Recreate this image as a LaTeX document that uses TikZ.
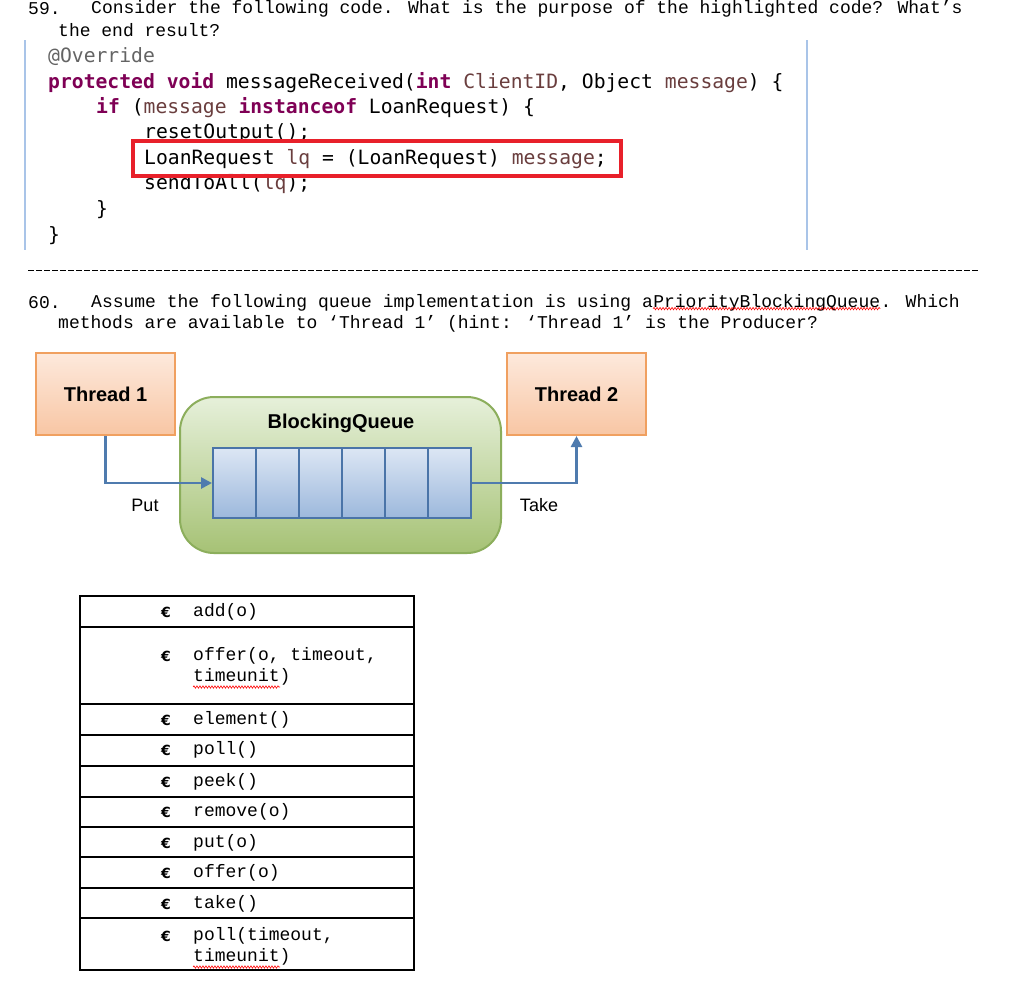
\documentclass[tikz,border=0pt]{standalone}
\usepackage{fontspec}
\setmainfont{Liberation Mono}
\newfontfamily\codefont{DejaVu Sans Mono}
\newfontfamily\labfont{Liberation Sans}
\newfontfamily\eurofont{DejaVu Sans}
\usetikzlibrary{arrows.meta,decorations.pathmorphing}
\definecolor{kw}{HTML}{7F0055}
\definecolor{var}{HTML}{6A3E3E}
\definecolor{ann}{HTML}{646464}
\definecolor{redbox}{HTML}{E8202A}
\definecolor{codeline}{HTML}{A9C4E8}
\definecolor{orT}{HTML}{FDE9DC}
\definecolor{orB}{HTML}{F8C6A4}
\definecolor{orD}{HTML}{F0A060}
\definecolor{grT}{HTML}{E6F0DA}
\definecolor{grB}{HTML}{A6C275}
\definecolor{grD}{HTML}{8CAE5C}
\definecolor{blT}{HTML}{DCE6F4}
\definecolor{blB}{HTML}{9CB8DC}
\definecolor{blD}{HTML}{4A74A8}
\definecolor{arr}{HTML}{4F7BAE}
\tikzset{
  txt/.style={anchor=west,inner sep=0pt,font=\fontsize{18}{20}\selectfont},
  cd/.style={anchor=west,inner sep=0pt,font=\codefont\fontsize{19.7}{21}\selectfont},
  cell/.style={anchor=west,inner sep=0pt,font=\fontsize{18}{20}\selectfont},
  eur/.style={inner sep=0pt,font=\eurofont\bfseries\fontsize{14}{16}\selectfont},
  thr/.style={draw=orD,line width=2pt,top color=orT,bottom color=orB,minimum width=139pt,minimum height=82pt,inner sep=0pt,font=\labfont\bfseries\fontsize{20}{22}\selectfont},
  lab/.style={inner sep=0pt,font=\labfont\fontsize{18}{20}\selectfont},
  wavy/.style={draw=red,line width=0.6pt,decorate,decoration={snake,amplitude=1.2pt,segment length=3pt}},
  conn/.style={draw=arr,line width=2.6pt,-{Triangle[length=11pt,width=11pt]}}
}
\begin{document}
\begin{tikzpicture}[x=1pt,y=-1pt]
\useasboundingbox (0,0) rectangle (1024,1005);
\fill[white] (0,0) rectangle (1024,1005);
% Q59
\node[txt] (q59n) at (28,9) {59.};
\node[txt] (q59a) at (91,9) {Consider the following code.  What is the purpose of the highlighted code?  What’s};
\node[txt] (q59b) at (58,30) {the end result?};
\draw[codeline,line width=1.2pt] (25,40) -- (25,250);
\draw[codeline,line width=1.2pt] (807,40) -- (807,250);
\node[cd,text=ann] (c1) at (48,57) {@Override};
\node[cd] (c2) at (48,83) {\textcolor{kw}{\bfseries protected void} messageReceived(\textcolor{kw}{\bfseries int} \textcolor{var}{ClientID}, Object \textcolor{var}{message}) \{};
\node[cd] (c3) at (96,108) {\textcolor{kw}{\bfseries if} (\textcolor{var}{message} \textcolor{kw}{\bfseries instanceof} LoanRequest) \{};
\node[cd] (c4) at (144,133) {resetOutput();};
\node[cd] (c5) at (144,159) {LoanRequest \textcolor{var}{lq} = (LoanRequest) \textcolor{var}{message};};
\node[cd] (c6) at (144,184) {sendToAll(\textcolor{var}{lq});};
\node[cd] (c7) at (96,210) {\}};
\node[cd] (c8) at (48,236) {\}};
\draw[redbox,line width=3.5pt] (133,141) rectangle (621,176);
\draw[black,dash pattern=on 6pt off 2pt,line width=0.6pt] (28,270) -- (978,270);
% Q60
\node[txt] (q60n) at (28,303) {60.};
\node[txt] (q60a) at (91,303) {Assume the following queue implementation is using a };
\node[inner sep=0pt,anchor=base west,font=\fontsize{18}{20}\selectfont] (pbq) at (q60a.base east) {PriorityBlockingQueue};
\node[inner sep=0pt,anchor=base west,font=\fontsize{18}{20}\selectfont] (q60c) at (pbq.base east) {.  Which};
\node[txt] (q60b) at (58,324) {methods are available to ‘Thread 1’  (hint: ‘Thread 1’ is the Producer?};
\draw[wavy] ([yshift=3pt]pbq.south west) -- ([yshift=3pt]pbq.south east);
% diagram
\node[thr] (t1) at (105.5,394) {Thread 1};
\node[thr] (t2) at (576.5,394) {Thread 2};
\node[draw=grD,line width=2pt,rounded corners=34pt,top color=grT,bottom color=grB,minimum width=321pt,minimum height=156pt,inner sep=0pt] (bq) at (340.5,475) {};
\node[lab,font=\labfont\bfseries\fontsize{20}{22}\selectfont] (bql) at (341,423) {BlockingQueue};
\foreach \i in {0,...,5}{
  \node[draw=blD,line width=2pt,top color=blT,bottom color=blB,minimum width=43pt,minimum height=70pt,inner sep=0pt,anchor=north west] (q\i) at (212+\i*43,447) {};
}
\draw[conn] (t1.south) |- (q0.west);
\draw[conn] (q5.east) -| (t2.south);
\node[lab] (put) at (145,505) {Put};
\node[lab] (take) at (539,505) {Take};
% table
\foreach \a/\b in {596/627,627/704,704/735,735/766,766/797,797/827,827/857,857/888,888/918,918/970}{
  \draw[black,line width=1.2pt] (80,\a) rectangle (414,\b);
}
\foreach \y/\t [count=\k] in {612/add(o),656/{offer(o, timeout,},720/element(),750/poll(),782/peek(),812/remove(o),843/put(o),873/offer(o),904/take(),936/{poll(timeout,}}{
  \node[eur] (e\k) at (166,\y) {€};
  \node[cell] (m\k) at (193,\y) {\t};
}
\node[cell] (u1) at (193,677) {timeunit)};
\node[cell] (u2) at (193,957) {timeunit)};
\draw[wavy] (193,687) -- (280,687);
\draw[wavy] (193,967) -- (280,967);
\end{tikzpicture}
\end{document}
